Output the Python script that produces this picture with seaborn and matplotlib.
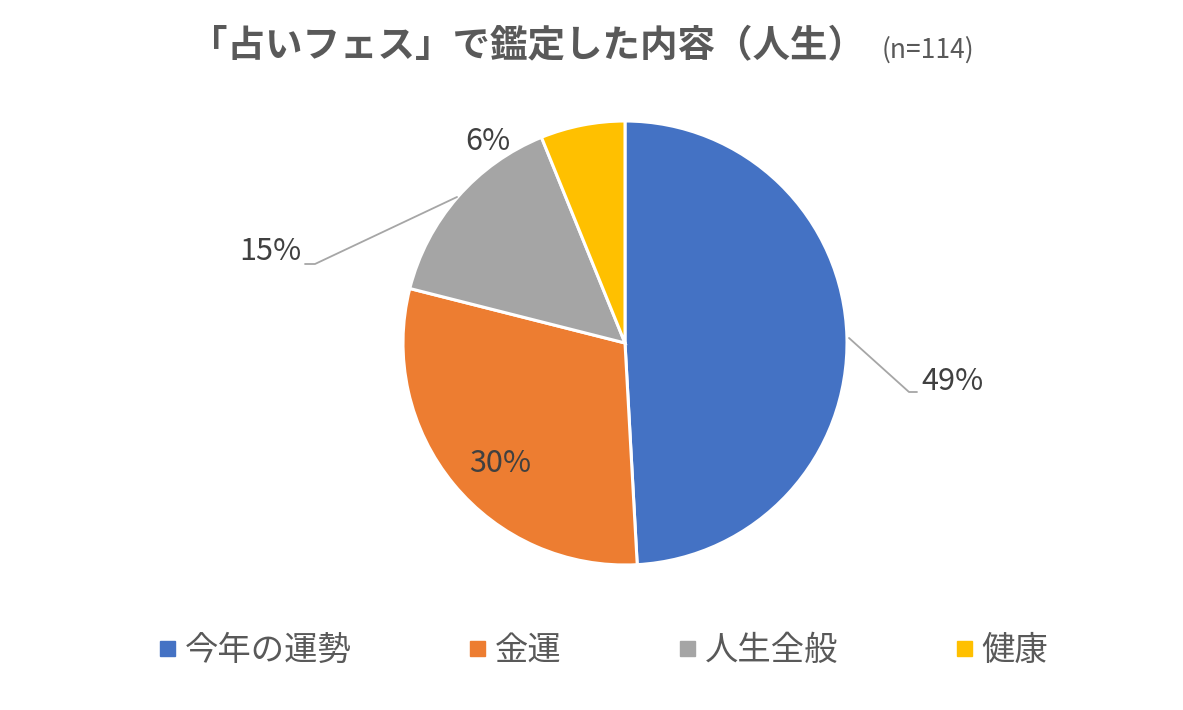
import matplotlib
matplotlib.use("Agg")
import matplotlib.pyplot as plt
from matplotlib.lines import Line2D
import seaborn as sns

categories = ["今年の運勢", "金運", "人生全般", "健康"]
counts = [56, 34, 17, 7]
pct_labels = ["49%", "30%", "15%", "6%"]
title_main = "「占いフェス」で鑑定した内容（人生）"
title_n = "(n=114)"

sns.set_theme(style="white")
plt.rcParams["font.family"] = ["Noto Sans CJK JP", "DejaVu Sans"]
colors = sns.color_palette(["#4472C4", "#ED7D31", "#A5A5A5", "#FFC000"])

W, H = 1183, 710
fig = plt.figure(figsize=(W / 100, H / 100), dpi=100)
fig.patch.set_facecolor("white")

cx, cy, r = 625, 343, 222
ax = fig.add_axes([(cx - r) / W, (H - cy - r) / H, 2 * r / W, 2 * r / H])
wedges, _ = ax.pie(counts, colors=colors, startangle=90, counterclock=False,
                   wedgeprops=dict(edgecolor="white", linewidth=2.2, antialiased=True))
ax.set_xlim(-1, 1)
ax.set_ylim(-1, 1)
ax.set_aspect("equal")
ax.axis("off")

def d(px, py):
    return (px - cx) / r, (cy - py) / r

lab_col = "#404040"
fs = 22
# 49%
x, y = d(921, 381)
ax.text(x, y, pct_labels[0], ha="left", va="center", fontsize=fs, color=lab_col, clip_on=False)
pts = [d(849, 338), d(909, 392), d(917, 392)]
ax.plot([p[0] for p in pts], [p[1] for p in pts], color="#A6A6A6", lw=1.3, clip_on=False)
# 30%
x, y = d(500, 464)
ax.text(x, y, pct_labels[1], ha="center", va="center", fontsize=fs, color=lab_col, clip_on=False)
# 15%
x, y = d(301, 252)
ax.text(x, y, pct_labels[2], ha="right", va="center", fontsize=fs, color=lab_col, clip_on=False)
pts = [d(457, 197), d(315, 264), d(305, 264)]
ax.plot([p[0] for p in pts], [p[1] for p in pts], color="#A6A6A6", lw=1.3, clip_on=False)
# 6%
x, y = d(488, 141)
ax.text(x, y, pct_labels[3], ha="center", va="center", fontsize=fs, color=lab_col, clip_on=False)

# Title
fig.text(190 / W, 1 - 46 / H, title_main, ha="left", va="center", fontsize=27,
         fontweight="bold", color="#595959")
fig.text(882 / W, 1 - 50 / H, title_n, ha="left", va="center", fontsize=19, color="#595959")

handles = [Line2D([0], [0], marker="s", linestyle="none", markersize=10.8,
                  markerfacecolor=c, markeredgecolor=c) for c in colors]
leg = fig.legend(handles, categories, loc="center", bbox_to_anchor=(604 / W, 1 - 650 / H),
                 ncol=4, frameon=False, fontsize=24, handlelength=0.45, handletextpad=0.3,
                 columnspacing=3.55, labelcolor="#595959", borderpad=0, borderaxespad=0)

fig.savefig("out.png", dpi=100, facecolor="white")
